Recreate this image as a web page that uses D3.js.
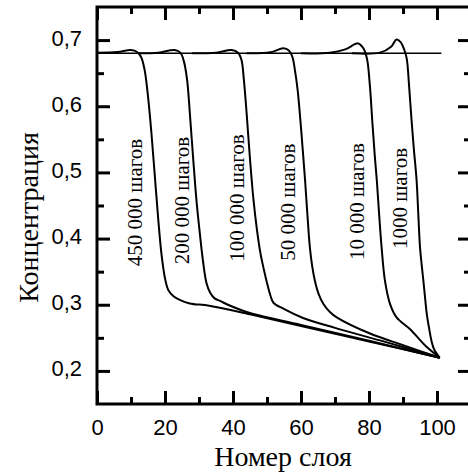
<!DOCTYPE html>
<html>
<head>
<meta charset="utf-8">
<script src="https://cdn.jsdelivr.net/npm/d3@7"></script>
<style>
  body { margin: 0; background: #fff; }
</style>
</head>
<body>
<div id="chart"></div>
<script>
var svgWidth = 468;
var svgHeight = 475;

// Data
var xMajor = [0, 20, 40, 60, 80, 100];
var xMinor = [10, 30, 50, 70, 90];
var yMajor = [0.2, 0.3, 0.4, 0.5, 0.6, 0.7];
var yMinor = [0.25, 0.35, 0.45, 0.55, 0.65];

var initialLine = [[0, 0.68], [101.3, 0.68]];

var steps450000 = [[0, 0.681], [6, 0.682], [10, 0.685], [11.8, 0.682], [13, 0.674], [14, 0.655], [15, 0.615],
  [16, 0.56], [17, 0.495], [18, 0.43], [19, 0.375], [20, 0.34], [21, 0.322], [22.5, 0.313], [24.5, 0.307],
  [27.3, 0.302], [33, 0.2985], [45, 0.2855], [60, 0.268], [80, 0.2445], [100.8, 0.22]];
var steps200000 = [[12, 0.68], [18, 0.681], [22.8, 0.685], [24.5, 0.681], [25.5, 0.669], [26.5, 0.64],
  [27.3, 0.59], [28.3, 0.52], [29.3, 0.455], [30.2, 0.41], [31.2, 0.365], [32.2, 0.333], [33.3, 0.318],
  [34.5, 0.31], [36.5, 0.305], [38.5, 0.3], [45, 0.2875], [60, 0.2695], [80, 0.2455], [100.8, 0.22]];
var steps100000 = [[28, 0.68], [35, 0.681], [39.6, 0.685], [41.5, 0.681], [42.5, 0.67], [43.2, 0.64],
  [44, 0.59], [45, 0.52], [46, 0.46], [47, 0.415], [48, 0.38], [49, 0.355], [50, 0.333], [51, 0.314],
  [51.9, 0.303], [54.8, 0.294], [60.6, 0.28], [70, 0.265], [85, 0.2435], [100.8, 0.22]];
var steps50000 = [[44, 0.68], [51, 0.6815], [54.8, 0.6875], [56.5, 0.684], [57.5, 0.674], [58.2, 0.655],
  [59, 0.625], [59.8, 0.58], [60.5, 0.535], [61.2, 0.488], [61.9, 0.435], [62.6, 0.387], [63.3, 0.358],
  [64.1, 0.336], [65.2, 0.316], [66.6, 0.301], [68.5, 0.289], [70.5, 0.281], [80.3, 0.2565], [90, 0.239],
  [100.8, 0.22]];
var steps10000 = [[60, 0.68], [68.5, 0.681], [73, 0.686], [76.8, 0.695], [78.3, 0.688], [79.4, 0.672],
  [80.2, 0.635], [81, 0.575], [81.7, 0.525], [82.3, 0.488], [83, 0.435], [83.7, 0.387], [84.7, 0.336],
  [86.2, 0.301], [88.1, 0.281], [92.1, 0.263], [97, 0.236], [100.8, 0.22]];
var steps1000 = [[75, 0.68], [83.2, 0.681], [86.5, 0.69], [88.1, 0.701], [89.3, 0.697], [90.4, 0.685],
  [91.1, 0.672], [91.8, 0.63], [92.5, 0.58], [93.2, 0.535], [94, 0.488], [94.5, 0.437], [95, 0.387],
  [95.5, 0.36], [96, 0.336], [96.5, 0.31], [97, 0.286], [97.7, 0.264], [98.4, 0.245], [99.2, 0.232],
  [100.8, 0.22]];

var curves = [steps450000, steps200000, steps100000, steps50000, steps10000, steps1000];

var curveLabels = ["450 000 шагов", "200 000 шагов", "100 000 шагов", "50 000 шагов", "10 000 шагов", "1000 шагов"];
var labelX = [11.2, 24.9, 41.1, 56.2, 76.4, 89.1];
var labelY = [0.4545, 0.4575, 0.4614, 0.455, 0.456, 0.4606];

var margin = { top: 7, right: -3, bottom: 71, left: 97 };
var width = svgWidth - margin.left - margin.right;
var height = svgHeight - margin.top - margin.bottom;

var svg = d3.select("#chart")
  .append("svg")
  .attr("width", svgWidth)
  .attr("height", svgHeight);

var Group = svg.append("g")
  .attr("transform", `translate(${margin.left}, ${margin.top})`);

// Scales
var xScale = d3.scaleLinear().domain([0, 110]).range([0, width]);
var yScale = d3.scaleLinear().domain([0.15, 0.75]).range([height, 0]);

var comma = function(d) { return d3.format(".1f")(d).replace(".", ","); };

// Axes: ticks point inside the frame
function styleAxis(g) {
  g.select(".domain").remove();
  g.selectAll(".tick line").attr("stroke", "#000").attr("stroke-width", 3);
  g.selectAll(".tick text")
    .attr("font-family", "'Liberation Sans', Arial, sans-serif")
    .attr("font-size", "22px")
    .attr("fill", "#000");
}

Group.append("g")
  .attr("transform", `translate(0, ${height})`)
  .call(d3.axisBottom(xScale).tickValues(xMajor).tickSize(-13).tickPadding(15).tickFormat(d3.format("d")))
  .call(styleAxis);
Group.append("g")
  .attr("transform", `translate(0, ${height})`)
  .call(d3.axisBottom(xScale).tickValues(xMinor).tickSize(-7).tickFormat(""))
  .call(styleAxis);
Group.append("g")
  .call(d3.axisTop(xScale).tickValues(xMajor).tickSize(-13).tickFormat(""))
  .call(styleAxis);
Group.append("g")
  .call(d3.axisTop(xScale).tickValues(xMinor).tickSize(-7).tickFormat(""))
  .call(styleAxis);

var yAxisLeft = Group.append("g")
  .call(d3.axisLeft(yScale).tickValues(yMajor).tickSize(-13).tickPadding(15).tickFormat(comma))
  .call(styleAxis);
yAxisLeft.selectAll(".tick text").attr("dy", "0.23em");
Group.append("g")
  .call(d3.axisLeft(yScale).tickValues(yMinor).tickSize(-7).tickFormat(""))
  .call(styleAxis);
Group.append("g")
  .attr("transform", `translate(${width}, 0)`)
  .call(d3.axisRight(yScale).tickValues(yMajor).tickSize(-13).tickFormat(""))
  .call(styleAxis);
Group.append("g")
  .attr("transform", `translate(${width}, 0)`)
  .call(d3.axisRight(yScale).tickValues(yMinor).tickSize(-7).tickFormat(""))
  .call(styleAxis);

// Frame
Group.append("rect")
  .attr("x", 0)
  .attr("y", 0)
  .attr("width", width)
  .attr("height", height)
  .attr("fill", "none")
  .attr("stroke", "#000")
  .attr("stroke-width", 3);

// Lines
var line = d3.line()
  .x(d => xScale(d[0]))
  .y(d => yScale(d[1]))
  .curve(d3.curveCatmullRom.alpha(0.5));

Group.append("path")
  .datum(initialLine)
  .attr("d", line)
  .attr("fill", "none")
  .attr("stroke", "#000")
  .attr("stroke-width", 1.6);

Group.selectAll(".curve")
  .data(curves)
  .enter()
  .append("path")
  .attr("class", "curve")
  .attr("d", line)
  .attr("fill", "none")
  .attr("stroke", "#000")
  .attr("stroke-width", 2)
  .attr("stroke-linejoin", "round");

// Curve labels, rotated
Group.selectAll(".curveLabel")
  .data(curveLabels)
  .enter()
  .append("text")
  .attr("class", "curveLabel")
  .attr("transform", (d, i) => `translate(${xScale(labelX[i])}, ${yScale(labelY[i])}) rotate(-90)`)
  .attr("dy", "0.35em")
  .attr("text-anchor", "middle")
  .attr("font-family", "'Liberation Serif', 'Times New Roman', serif")
  .attr("font-size", "21px")
  .text(d => d);

// Axis titles
svg.append("text")
  .attr("transform", `translate(38, ${margin.top + height / 2 + 12}) rotate(-90)`)
  .attr("text-anchor", "middle")
  .attr("font-family", "'Liberation Serif', 'Times New Roman', serif")
  .attr("font-size", "28px")
  .text("Концентрация");

svg.append("text")
  .attr("x", margin.left + (xScale(100) + xScale(0)) / 2 + 16)
  .attr("y", 466)
  .attr("text-anchor", "middle")
  .attr("font-family", "'Liberation Serif', 'Times New Roman', serif")
  .attr("font-size", "28px")
  .text("Номер слоя");
</script>
</body>
</html>
